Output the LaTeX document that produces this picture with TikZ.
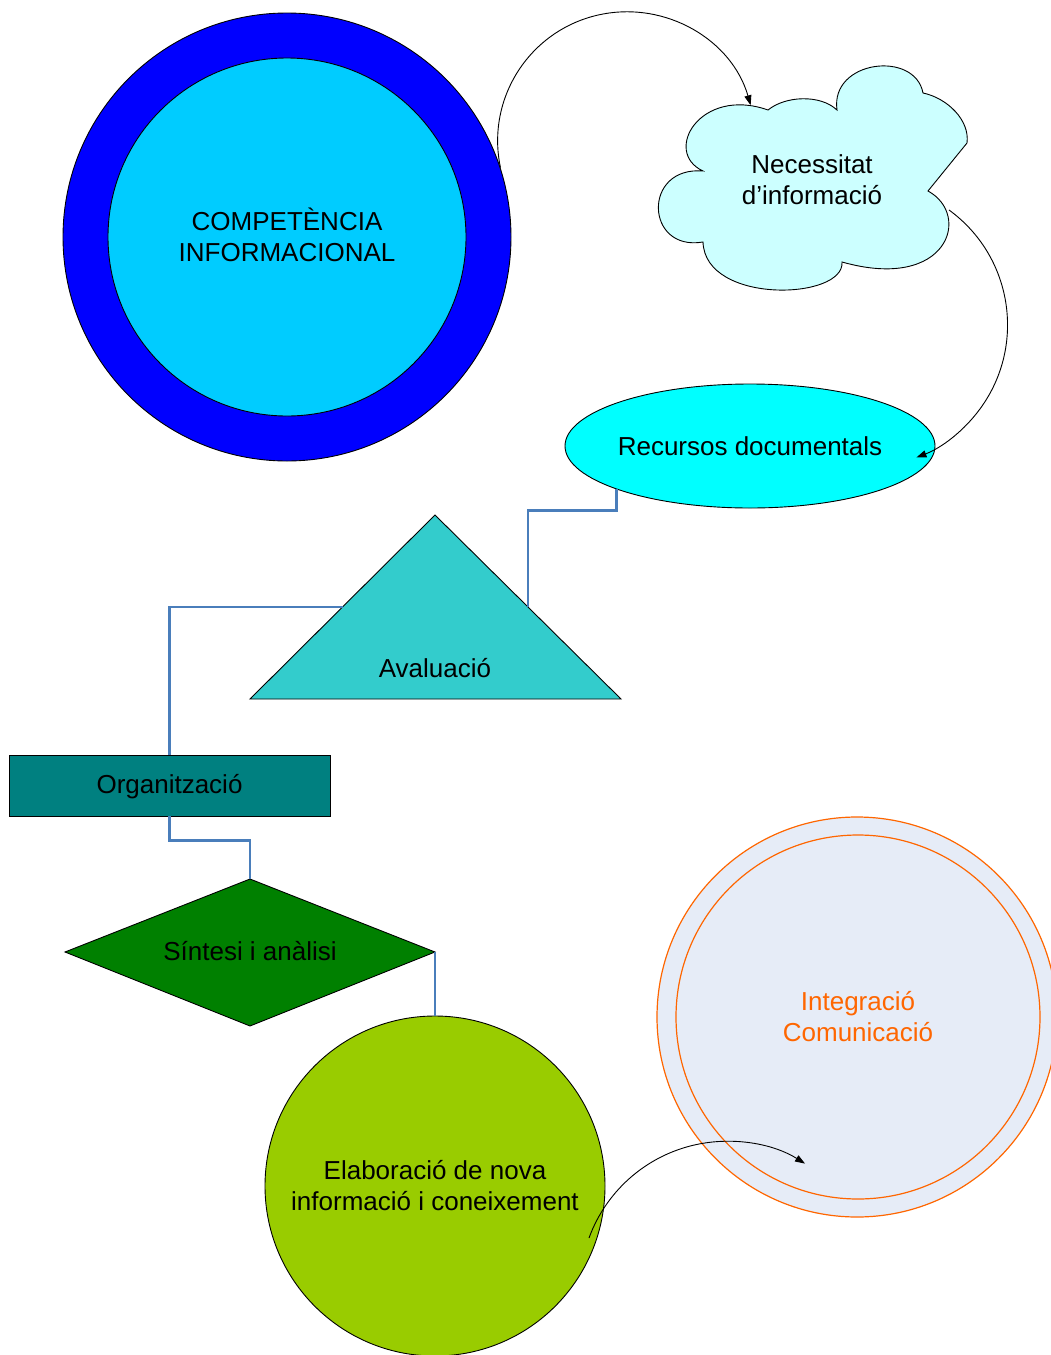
\documentclass[tikz,border=0pt]{standalone}
\usepackage{fontspec}
\setmainfont{Liberation Sans}
\usetikzlibrary{shapes.geometric,arrows.meta}

\definecolor{ringblue}{HTML}{0000FF}
\definecolor{coreblue}{HTML}{00CCFF}
\definecolor{cloudfill}{HTML}{CCFFFF}
\definecolor{resfill}{HTML}{00FFFF}
\definecolor{trifill}{HTML}{33CCCC}
\definecolor{orgfill}{HTML}{008080}
\definecolor{synfill}{HTML}{008000}
\definecolor{elabfill}{HTML}{99CC00}
\definecolor{intfill}{HTML}{E6ECF7}
\definecolor{intorange}{HTML}{FF6600}
\definecolor{linkblue}{HTML}{4A7EBB}

\tikzset{
  shapeline/.style={draw=black, line width=0.9pt},
  disc/.style={circle, shapeline, inner sep=0pt},
  txt/.style={align=center, inner sep=0pt, text=black},
  link/.style={draw=linkblue, line width=2.6pt},
  flow/.style={draw=black, line width=0.9pt, -{Triangle[length=10pt,width=7pt]}},
  halo/.style={circle, draw=intorange, line width=1.2pt, fill=intfill, inner sep=0pt}
}

\begin{document}
\begin{tikzpicture}[x=1pt, y=1pt, font=\fontsize{26}{31}\selectfont]
\useasboundingbox (0,0) rectangle (1051,-1355);
\clip (0,0) rectangle (1051,-1355);

% central competence disc
\node[disc, fill=ringblue, minimum size=448pt] (compO) at (287,-237) {};
\node[disc, fill=coreblue, minimum size=358pt] (comp) at (287,-237) {};
\node[txt] (compT) at (287,-235) {COMPETÈNCIA\\INFORMACIONAL};

% information need (cloud), lobe by lobe
\filldraw[shapeline, fill=cloudfill]
  (703,-242) .. controls (645,-252) and (642,-166) .. (703,-171)
  .. controls (662,-152) and (700,-86) .. (768,-110)
  .. controls (785,-96) and (820,-94) .. (837,-110)
  .. controls (830,-60) and (915,-50) .. (923,-93)
  .. controls (947,-98) and (970,-120) .. (967,-143)
  -- (928,-191)
  .. controls (972,-215) and (948,-292) .. (842,-262)
  .. controls (845,-300) and (705,-305) .. cycle;
\node[txt] (need) at (812,-180) {Necessitat\\d’informació};
\coordinate (needR) at (949,-210);

% documentary resources
\node[ellipse, shapeline, fill=resfill, minimum width=370pt, minimum height=124pt, inner sep=0pt] (res) at (750,-446) {};
\node[txt] (resT) at (750,-446) {Recursos documentals};

% evaluation
\filldraw[shapeline, fill=trifill] (435,-515) -- (621,-699) -- (250,-699) -- cycle;
\coordinate (evalR) at (528,-607);
\coordinate (evalL) at (343,-607);
\node[txt] (eval) at (435,-668) {Avaluació};

% organisation
\node[rectangle, shapeline, fill=orgfill, minimum width=321pt, minimum height=61pt, inner sep=0pt] (org) at (169.5,-785.5) {};
\node[txt] (orgT) at (169.5,-787) {Organització};

% synthesis and analysis
\filldraw[shapeline, fill=synfill] (250,-879) -- (435,-952) -- (250,-1026) -- (65,-952) -- cycle;
\coordinate (synT) at (250,-879);
\coordinate (synR) at (435,-952);
\node[txt] (syn) at (250,-951) {Síntesi i anàlisi};

% new knowledge
\node[disc, fill=elabfill, minimum size=340pt, txt] (elab) at (435,-1186) {Elaboració de nova\\informació i coneixement};
\coordinate (elabOut) at (589,-1238);

% integration / communication
\node[halo, minimum size=400pt] (intO) at (857,-1017) {};
\node[halo, minimum size=364pt, align=center, text=intorange] (int) at (858,-1017) {Integració\\Comunicació};

% elbow links
\draw[link] (res.198.6) -- ++(0,-21) -| (evalR);
\draw[link] (evalL) -| (org.north);
\draw[link] (org.south) -- ++(0,-24) -| (synT);
\draw[link] (synR) -- (elab.north);

% curved arrows
\draw[flow] (compO.18.3) arc[start angle=192, end angle=16, radius=129];
\draw[flow] (needR) arc[start angle=54, end angle=-69, radius=142];
\draw[flow] (elabOut) arc[start angle=160, end angle=58, radius=147];
\end{tikzpicture}
\end{document}
